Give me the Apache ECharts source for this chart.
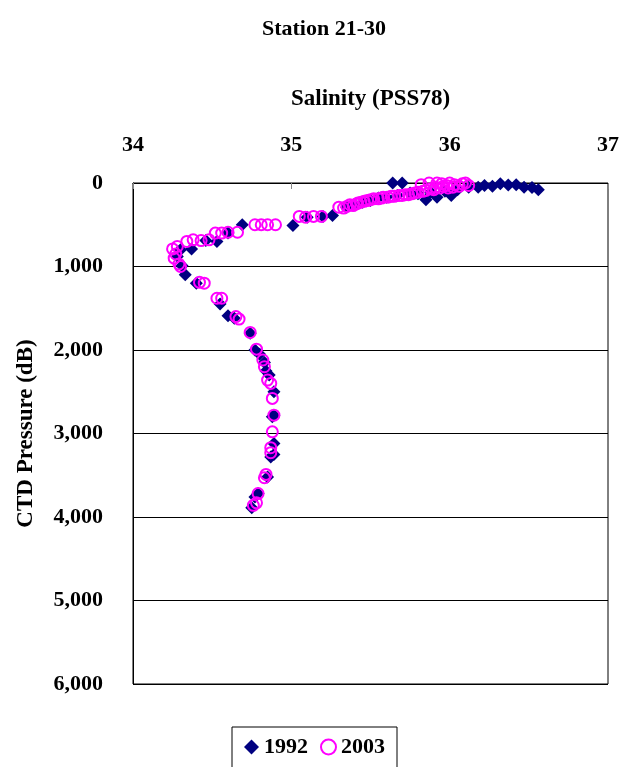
<!DOCTYPE html>
<html>
<head>
<meta charset="utf-8">
<script src="https://cdn.jsdelivr.net/npm/echarts@6/dist/echarts.min.js"></script>
<style>
  html, body { margin: 0; padding: 0; background: #fff; }
  #chart { width: 622px; height: 767px; }
</style>
</head>
<body>
<div id="chart"></div>
<script>
// Salinity (PSS78) against CTD pressure (dB), stations 21-30
var xTicks = [34, 35, 36, 37];
var yTicks = [0, 1000, 2000, 3000, 4000, 5000, 6000];

var sal1992 = [35.64, 35.70, 35.67, 35.75, 35.85, 35.92, 36.01, 35.97, 36.05, 36.12,
  36.18, 36.22, 36.27, 36.32, 36.37, 36.42, 36.47, 36.52, 36.56, 35.55,
  35.45, 35.35, 35.26, 35.20, 35.10, 35.01, 34.69, 34.60, 34.53, 34.46,
  34.37, 34.30, 34.28, 34.31, 34.33, 34.40, 34.55, 34.60, 34.64, 34.74,
  34.77, 34.80, 34.83, 34.84, 34.86, 34.89, 34.89, 34.88, 34.89, 34.89,
  34.87, 34.85, 34.79, 34.77, 34.75, 35.50, 35.40, 35.60, 35.80, 35.88];
var pres1992 = [0, 0, 150, 120, 200, 170, 150, 100, 80, 50,
  50, 30, 40, 10, 25, 20, 50, 55, 80, 180,
  230, 290, 390, 400, 410, 510, 500, 600, 700, 690,
  790, 800, 880, 990, 1100, 1200, 1450, 1590, 1620, 1800,
  2000, 2050, 2150, 2250, 2300, 2500, 2780, 2800, 3120, 3250,
  3280, 3520, 3720, 3760, 3890, 210, 260, 170, 130, 110];

var sal2003 = [35.82, 35.87, 35.92, 35.95, 35.98, 36.00, 36.03, 36.06, 36.08, 36.10,
  36.12, 35.94, 35.90, 35.85, 35.80, 35.76, 35.72, 35.68, 35.63, 35.58,
  35.55, 35.50, 35.46, 35.42, 35.39, 35.35, 35.30, 35.19, 35.14, 35.09,
  35.05, 34.90, 34.85, 34.81, 34.77, 34.66, 34.60, 34.56, 34.52, 34.48,
  34.43, 34.38, 34.34, 34.28, 34.25, 34.27, 34.26, 34.29, 34.30, 34.42,
  34.45, 34.53, 34.56, 34.65, 34.67, 34.74, 34.78, 34.82, 34.83, 34.85,
  34.87, 34.88, 34.89, 34.88, 34.87, 34.87, 34.84, 34.83, 34.79, 34.78,
  34.76, 35.33, 35.37, 35.41, 35.44, 35.48, 35.52, 35.57, 35.61, 35.65,
  35.70, 35.74, 35.78, 35.83, 35.88, 35.91, 35.96, 36.02, 35.99];
var pres2003 = [20, 0, 0, 10, 30, 0, 20, 40, 10, 0,
  30, 60, 80, 90, 110, 130, 140, 150, 160, 170,
  190, 200, 220, 240, 270, 280, 290, 400, 400, 410,
  400, 500, 500, 500, 500, 590, 590, 600, 600, 680,
  690, 680, 700, 760, 790, 850, 900, 970, 1000, 1190,
  1200, 1380, 1380, 1600, 1630, 1790, 1990, 2120, 2200, 2360,
  2400, 2580, 2780, 2980, 3170, 3230, 3490, 3530, 3720, 3830,
  3860, 300, 260, 250, 230, 210, 190, 180, 170, 160,
  150, 140, 120, 100, 70, 50, 40, 50, 60];

function pairs(xs, ys) {
  return xs.map(function (x, i) { return [x, ys[i]]; });
}

var FONT = '"Liberation Serif", "Times New Roman", serif';
var chart = echarts.init(document.getElementById('chart'), null, { renderer: 'canvas' });

chart.setOption({
  animation: false,
  backgroundColor: '#fff',
  title: {
    text: 'Station 21-30',
    left: 319, top: 13,
    textAlign: 'center',
    textStyle: { fontFamily: FONT, fontWeight: 'bold', fontSize: 22, color: '#000' }
  },
  grid: {
    left: 133, top: 183, width: 477, height: 501,
    show: true, borderColor: '#000', borderWidth: 1, backgroundColor: 'transparent'
  },
  xAxis: {
    type: 'value', position: 'top',
    min: xTicks[0], max: xTicks[xTicks.length - 1], interval: 1,
    name: 'Salinity (PSS78)', nameLocation: 'middle', nameGap: 72,
    nameTextStyle: { fontFamily: FONT, fontWeight: 'bold', fontSize: 23, color: '#000' },
    axisLine: { show: true, lineStyle: { color: '#000', width: 1 } },
    axisTick: { show: true, inside: true, length: 6, lineStyle: { color: '#888' } },
    axisLabel: { margin: 27, fontFamily: FONT, fontWeight: 'bold', fontSize: 22, color: '#000' },
    splitLine: { show: false }
  },
  yAxis: {
    type: 'value', inverse: true,
    min: yTicks[0], max: yTicks[yTicks.length - 1], interval: 1000,
    name: 'CTD Pressure (dB)', nameLocation: 'middle', nameGap: 95, nameRotate: 90,
    nameTextStyle: { fontFamily: FONT, fontWeight: 'bold', fontSize: 23, color: '#000' },
    axisLine: { show: true, lineStyle: { color: '#000', width: 1 } },
    axisTick: { show: false },
    axisLabel: {
      margin: 30, fontFamily: FONT, fontWeight: 'bold', fontSize: 22, color: '#000',
      formatter: function (v) { return v.toLocaleString('en-US'); }
    },
    splitLine: { show: true, lineStyle: { color: '#000', width: 1 } }
  },
  legend: {
    left: 232, top: 727,
    padding: [9, 12, 30, 12],
    borderColor: '#000', borderWidth: 1,
    itemWidth: 15, itemHeight: 15, itemGap: 12,
    textStyle: { fontFamily: FONT, fontWeight: 'bold', fontSize: 22, color: '#000' },
    data: ['1992', '2003']
  },
  series: [
    {
      name: '1992', type: 'scatter',
      symbol: 'diamond', symbolSize: 13,
      itemStyle: { color: '#000080', opacity: 1 },
      data: pairs(sal1992, pres1992)
    },
    {
      name: '2003', type: 'scatter',
      symbol: 'circle', symbolSize: 11,
      itemStyle: { color: 'rgba(255,255,255,0)', borderColor: '#ff00ff', borderWidth: 2, opacity: 1 },
      data: pairs(sal2003, pres2003)
    }
  ]
});
</script>
</body>
</html>
